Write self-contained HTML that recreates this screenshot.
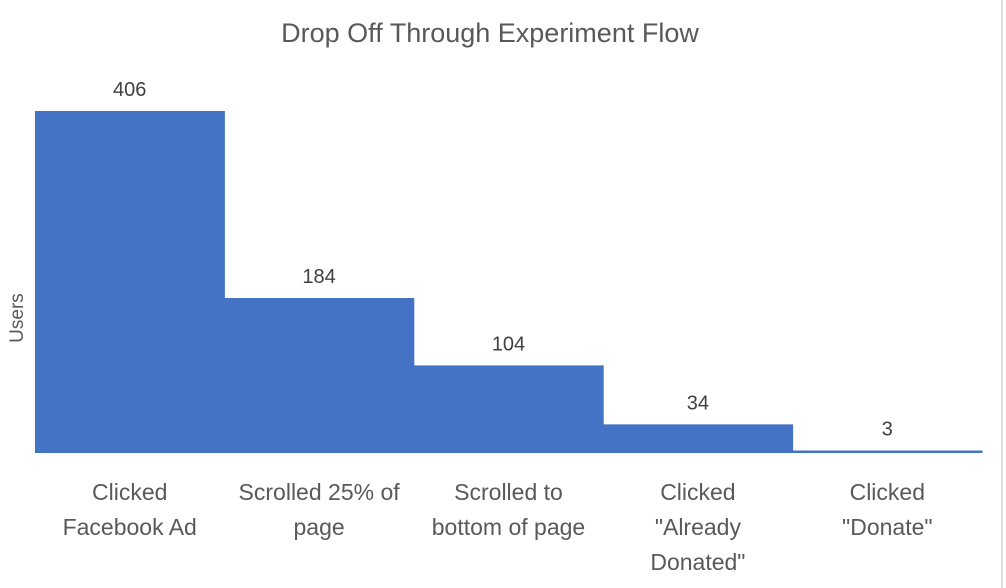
<!DOCTYPE html>
<html><head><meta charset="utf-8"><style>
body{margin:0;background:#fff;}
svg{display:block;font-family:"Liberation Sans",sans-serif;}
</style></head><body>
<svg id="chart" width="1006" height="588">
<line x1="1002" y1="0" x2="1002" y2="588" stroke="#d4d4d4" stroke-width="1.5"/>
<text x="490" y="42" text-anchor="middle" font-size="27" fill="#595959">Drop Off Through Experiment Flow</text>
<text transform="translate(23,318) rotate(-90)" text-anchor="middle" font-size="19" fill="#595959">Users</text>
<g id="bars"></g>
</svg>
<script>
const categories = [["Clicked","Facebook Ad"],["Scrolled 25% of","page"],["Scrolled to","bottom of page"],["Clicked","\"Already","Donated\""],["Clicked","\"Donate\""]];
const values = [406,184,104,34,3];
const yMax = 406;
const plotX0 = 35, plotX1 = 982, plotBase = 453, yTop = 111;
const bw = (plotX1 - plotX0) / values.length;
const yScale = v => plotBase - (v / yMax) * (plotBase - yTop);
const xs = i => plotX0 + i * bw;
const g = document.getElementById('bars');
const NS = 'http://www.w3.org/2000/svg';
values.forEach((v, i) => {
  const r = document.createElementNS(NS, 'rect');
  r.setAttribute('x', xs(i)); r.setAttribute('width', bw + 0.5);
  r.setAttribute('y', yScale(v)); r.setAttribute('height', Math.max(plotBase - yScale(v), 1.5));
  r.setAttribute('fill', '#4472c4');
  
  
  g.appendChild(r);
  const t = document.createElementNS(NS, 'text');
  t.setAttribute('x', xs(i) + bw / 2); t.setAttribute('y', yScale(v) - 15);
  t.setAttribute('text-anchor', 'middle'); t.setAttribute('font-size', '20'); t.setAttribute('fill', '#404040');
  t.textContent = v;
  
  
  g.appendChild(t);
  categories[i].forEach((line, j) => {
    const c = document.createElementNS(NS, 'text');
    c.setAttribute('x', xs(i) + bw / 2); c.setAttribute('y', 500 + j * 35);
    c.setAttribute('text-anchor', 'middle'); c.setAttribute('font-size', '23'); c.setAttribute('fill', '#595959');
    c.textContent = line;
    
    
    g.appendChild(c);
  });
});
</script>
</body></html>
